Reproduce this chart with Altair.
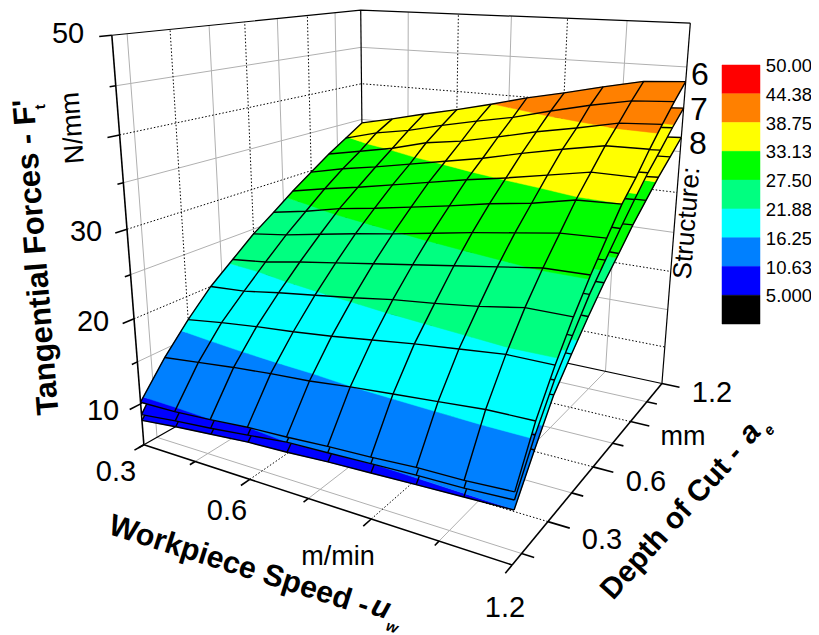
import numpy as np
import altair as alt

# ---- data
U = [0.3, 0.4, 0.5, 0.6, 0.7, 0.8, 0.9, 1.0, 1.1, 1.2]
A = [0.1, 0.2, 0.3, 0.4, 0.5, 0.6, 0.7, 0.8, 0.9, 1.0, 1.1, 1.2]
S6 = [
 [10.2,10.3,10.6,11.0,11.2,11.5,11.7,12.0,12.1,12.4],
 [14.0,14.5,15.0,15.4,15.7,16.2,16.6,17.0,17.4,17.5],
 [17.2,17.8,18.3,18.7,19.2,19.8,20.4,20.9,21.4,21.4],
 [20.0,20.3,21.0,21.6,22.2,22.9,23.4,24.0,24.8,24.8],
 [22.2,22.7,23.5,24.2,24.9,25.6,26.3,27.0,27.7,27.8],
 [24.4,25.0,25.8,26.6,27.3,28.1,28.9,29.6,30.3,30.5],
 [26.2,27.0,28.0,28.7,29.5,30.3,31.2,31.9,32.9,33.1],
 [28.1,29.0,29.8,30.7,31.6,32.5,33.3,34.2,35.1,35.1],
 [29.8,30.8,31.6,32.5,33.4,34.3,35.4,36.4,37.3,37.4],
 [31.5,32.4,33.3,34.5,35.2,36.2,37.3,38.2,39.2,39.5],
 [33.0,34.2,35.0,36.1,37.1,38.0,39.2,40.3,41.2,41.5],
 [34.5,35.5,36.6,37.6,38.7,39.9,40.9,42.0,43.0,43.3],
]
S7 = [
 [8.7,9.2,9.6,10.1,10.63,10.8,11,11.2,11.3,11.6],
 [13,13.4,13.9,14.3,14.6,15,15.4,15.8,16.1,16.1],
 [15.9,16.5,17,17.3,17.8,18.4,18.9,19.4,19.8,19.9],
 [18.5,18.8,19.5,20,20.6,21.2,21.7,22.2,23,22.9],
 [20.6,21,21.8,22.4,23.1,23.7,24.4,25,25.7,25.8],
 [22.6,23.2,23.9,24.7,25.3,26,26.8,27.4,28.1,28.2],
 [24.3,25,26,26.6,27.3,28.1,28.9,29.6,30.5,30.5],
 [26,26.9,27.6,28.5,29.3,30.1,30.9,31.7,32.5,32.7],
 [27.6,28.6,29.3,30.1,31,31.8,32.8,33.7,34.6,34.8],
 [29.2,30,30.9,32,32.6,33.6,34.6,35.4,36.3,36.6],
 [30.6,31.7,32.4,33.5,34.4,35.2,36.3,37.4,38.2,38.5],
 [32,32.9,33.9,34.9,35.9,37,37.9,38.9,39.9,40.2],
]
S8 = [
 [8,8.5,8.9,9.3,9.5,9.8,10,10.2,10.4,10.6],
 [11.9,12.3,12.7,13,13.3,13.7,14.1,14.4,14.7,14.6],
 [14.6,15.1,15.5,15.8,16.3,16.8,17.3,17.7,18.1,18.4],
 [16.9,17.2,17.8,18.3,18.8,19.4,19.8,20.3,21,21],
 [18.8,19.2,19.9,20.5,21.1,21.7,22.3,22.9,23.5,23.5],
 [20.7,21.2,21.9,22.5,23.1,23.8,24.5,25.1,25.7,25.8],
 [22.2,22.9,23.7,24.3,25,25.7,26.4,27,27.9,27.8],
 [23.8,24.6,25.2,26,26.8,27.5,28.2,29,29.7,29.9],
 [25.2,26.1,26.8,27.5,28.3,29.1,30,30.8,31.6,31.7],
 [26.7,27.4,28.2,29.2,29.8,30.7,31.6,32.4,33.2,33.5],
 [28,29,29.6,30.6,31.4,32.2,33.2,34.1,34.9,35.1],
 [29.2,30.1,31,31.8,32.8,33.8,34.6,35.6,36.4,36.7],
]
LEVELS = [0, 5.0, 10.63, 16.25, 21.88, 27.5, 33.13, 38.75, 44.38, 50.0]
COLORS = ["#000000", "#0000ff", "#0080ff", "#00ffff", "#00ff80", "#00ff00", "#ffff00", "#ff8000", "#ff0000"]
LEGEND_LABELS = ["50.00", "44.38", "38.75", "33.13", "27.50", "21.88", "16.25", "10.63", "5.000"]
U_TICKS = [0.3, 0.45, 0.6, 0.75, 0.9, 1.05, 1.2]
A_TICKS = [0.15, 0.3, 0.45, 0.6, 0.75, 0.9, 1.05, 1.2]
Z_TICKS = [5, 10, 15, 20, 25, 30, 35, 40, 45, 50]
U_MAJOR = [0.6, 0.9, 1.2, 0.3]
A_MAJOR = [0.3, 0.6, 0.9, 1.2]
Z_MAJOR = [10, 20, 30, 40, 50]
Umin, Umax, Amin, Amax, Zmin, Zmax = 0.3, 1.2, 0.1, 1.2, 5, 50

# ---- camera calibrated against the box of the picture
CAL = [
 ((0.3,0.1,5),(145,444)), ((1.2,0.1,5),(512,563)), ((1.2,1.2,5),(663,382)), ((0.3,1.2,5),(362,320)),
 ((0.3,0.1,50),(112,35)), ((0.3,1.2,50),(362,10)), ((1.2,1.2,50),(689,23)),
 ((0.6,0.1,5),(249,478)), ((0.9,0.1,5),(373,518)), ((1.2,0.3,5),(548,525)), ((1.2,0.6,5),(593,468)),
 ((1.2,0.9,5),(630,422)), ((0.3,0.1,30),(124,230)), ((0.3,0.1,10),(138,407)),
 ((0.3,1.2,34.5),(363,123)), ((0.3,0.6,24.4),(254,234)), ((0.3,0.1,10.2),(144,400)),
]
M = []
b = []
for (p, q) in CAL:
    X, Y, Z = p
    x, y = q
    M.append([X,Y,Z,1,0,0,0,0,-x*X,-x*Y,-x*Z]); b.append(x)
    M.append([0,0,0,0,X,Y,Z,1,-y*X,-y*Y,-y*Z]); b.append(y)
P = np.linalg.lstsq(np.array(M, float), np.array(b, float), rcond=None)[0]
P = np.append(P, 1.0).reshape(3, 4)

def proj(u, a, z):
    v = P @ np.array([u, a, z, 1.0])
    return [float(v[0]/v[2]) - 8, float(v[1]/v[2]) - 8]

def line(*pts):
    return {"type": "Feature", "properties": {},
            "geometry": {"type": "LineString", "coordinates": [proj(*p) for p in pts]}}

def clip(poly, level, keep_above):
    out = []
    n = len(poly)
    for i in range(n):
        p, q = poly[i], poly[(i+1) % n]
        pin = p[2] >= level if keep_above else p[2] <= level
        qin = q[2] >= level if keep_above else q[2] <= level
        if pin:
            out.append(p)
        if pin != qin:
            t = (level - p[2]) / (q[2] - p[2])
            out.append(tuple(p[k] + t*(q[k]-p[k]) for k in range(3)))
    return out

def surface_fills(S):
    feats = []
    for j in range(len(A)-1, 0, -1):
        for i in range(len(U)-1):
            q = [(U[i],A[j-1],S[j-1][i]), (U[i+1],A[j-1],S[j-1][i+1]),
                 (U[i+1],A[j],S[j][i+1]), (U[i],A[j],S[j][i])]
            for k in range(len(COLORS)):
                c = clip(q, LEVELS[k], True)
                if len(c) >= 3:
                    c = clip(c, LEVELS[k+1], False)
                if len(c) >= 3:
                    ring = [proj(*p) for p in c]
                    ring.append(ring[0])
                    feats.append({"type": "Feature", "properties": {"band": COLORS[k]},
                                  "geometry": {"type": "Polygon", "coordinates": [ring]}})
    return feats

def surface_lines(S):
    feats = []
    for j in range(len(A)):
        feats.append(line(*[(U[i],A[j],S[j][i]) for i in range(len(U))]))
    for i in range(len(U)):
        feats.append(line(*[(U[i],A[j],S[j][i]) for j in range(len(A))]))
    return feats

PROJ = dict(type="identity", scale=1, translate=[0, 0])

def geo_lines(feats, **kw):
    return alt.Chart(alt.Data(values=feats)).mark_geoshape(filled=False, **kw).project(**PROJ)

def geo_fills(feats):
    return alt.Chart(alt.Data(values=feats)).mark_geoshape(strokeWidth=0.5).encode(
        fill=alt.Color("properties.band:N", scale=None),
        stroke=alt.Color("properties.band:N", scale=None),
    ).project(**PROJ)

# grids
gray, dots = [], []
def split(list_, val, major, a):
    (dots if val in major else gray).append(a)

for a_ in A_TICKS:
    if a_ < Amax:
        split(gray, a_, A_MAJOR, line((Umin,a_,Zmin),(Umin,a_,Zmax)))
        split(gray, a_, A_MAJOR, line((Umin,a_,Zmin),(Umax,a_,Zmin)))
for u_ in U_TICKS[1:]:
    if u_ < Umax:
        split(gray, u_, U_MAJOR, line((u_,Amax,Zmin),(u_,Amax,Zmax)))
        split(gray, u_, U_MAJOR, line((u_,Amin,Zmin),(u_,Amax,Zmin)))
for z_ in Z_TICKS[1:-1]:
    split(gray, z_, Z_MAJOR, line((Umin,Amin,z_),(Umin,Amax,z_),(Umax,Amax,z_)))

frame = [line((Umin,Amin,Zmax),(Umin,Amax,Zmax),(Umax,Amax,Zmax)),
         line((Umin,Amax,Zmin),(Umin,Amax,Zmax)),
         line((Umax,Amax,Zmin),(Umax,Amax,Zmax)),
         line((Umin,Amin,Zmin),(Umin,Amax,Zmin),(Umax,Amax,Zmin))]
axes = [line((Umin,Amin,Zmin),(Umin,Amin,Zmax)),
        line((Umin,Amin,Zmin),(Umax,Amin,Zmin)),
        line((Umax,Amin,Zmin),(Umax,Amax,Zmin))]
for u_ in U_TICKS:
    axes.append(line((u_,Amin,Zmin),(u_,Amin-(0.035 if u_ in U_MAJOR else 0.02),Zmin)))
for a_ in A_TICKS:
    axes.append(line((Umax,a_,Zmin),(Umax+(0.045 if a_ in A_MAJOR else 0.025),a_,Zmin)))
for z_ in Z_TICKS:
    axes.append(line((Umin,Amin,z_),(Umin,Amin-(0.04 if z_ in Z_MAJOR else 0.02),z_)))

# legend
LX0, LX1, LY0, LY1 = 722-8, 760-8, 65-8, 324-8
step = (LY1-LY0)/len(COLORS)
legend_feats = []
for k, c in enumerate(reversed(COLORS)):
    y0, y1 = LY0+k*step, LY0+(k+1)*step
    legend_feats.append({"type": "Feature", "properties": {"band": c},
        "geometry": {"type": "Polygon", "coordinates": [[[LX0,y0],[LX1,y0],[LX1,y1],[LX0,y1],[LX0,y0]]]}})

# text: label, x, y, size, angle
REG = [("50",68,34,29,0),("30",86,232,29,0),("20",93,322,29,0),("10",103,411,29,0),
       ("N/mm",73,128,27,265.5),
       ("0.3",116,472,29,0),("0.6",227,511,29,0),("m/min",338,557,27,0),("1.2",505,608,29,0),
       ("1.2",712,393,29,0),("mm",683,437,27,0),("0.6",646,482,29,0),("0.3",602,540,29,0),
       ("6",700,75,32,0),("7",699,110,32,0),("8",698,144,32,0),("Structure:",687,223,26,274.5)]
for k, lab in enumerate(LEGEND_LABELS):
    REG.append((lab, 789, 66+k*28.8, 18.5, 0))
BOLD = [("Tangential Forces - F'",37,257,31,265.5),("t",40,107,15,265.5),
        ("Workpiece Speed -",239,566,30.4,17.6),("Depth of Cut -",672,522,29.7,312)]
ITAL = [("u",381,608,30,17.6),("w",392,627,15,17.6),("a",750,433,30,312),("e",769,430,15,312)]

def text_layer(rows, **kw):
    vals = [{"t": r[0], "lon": r[1]-8, "lat": r[2]-8, "s": r[3], "r": r[4]} for r in rows]
    return alt.Chart(alt.Data(values=vals)).mark_text(
        font="Liberation Sans", color="#000000", align="center", baseline="middle", **kw
    ).encode(longitude="lon:Q", latitude="lat:Q", text="t:N",
             size=alt.Size("s:Q", scale=None),
             angle=alt.Angle("r:Q", scale=None)).project(**PROJ)

layers = [
    geo_lines(gray, stroke="#b0b0b0", strokeWidth=1),
    geo_lines(dots, stroke="#000000", strokeWidth=1, strokeDash=[1.5, 2]),
    geo_lines(frame, stroke="#000000", strokeWidth=1.2),
    geo_lines(axes, stroke="#000000", strokeWidth=1.6),
]
for S in (S8, S7, S6):
    layers.append(geo_fills(surface_fills(S)))
    layers.append(geo_lines(surface_lines(S), stroke="#000000", strokeWidth=1.4))
layers.append(geo_fills(legend_feats))
layers.append(text_layer(REG))
layers.append(text_layer(BOLD, fontWeight="bold"))
layers.append(text_layer(ITAL, fontWeight="bold", fontStyle="italic"))

chart = alt.layer(*layers).properties(
    width=803, height=627, padding=0,
    autosize=alt.AutoSizeParams(type="none"),
).configure_view(stroke=None)

chart.save("out.html", embed_options={"renderer": "svg", "actions": False})
